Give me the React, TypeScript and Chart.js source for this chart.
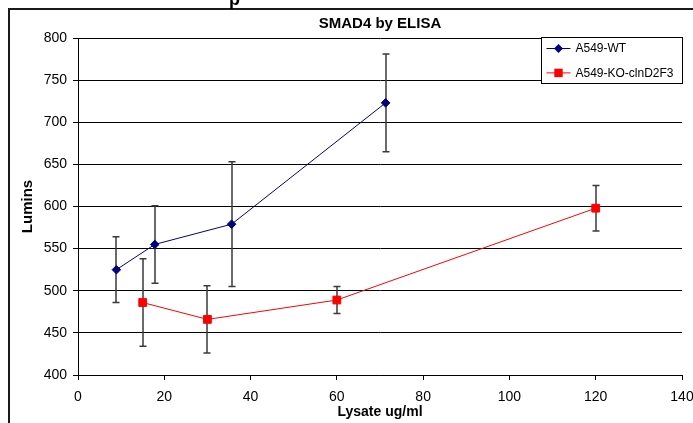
import React, { useEffect, useRef } from 'react';
import { Chart, registerables } from 'chart.js';

Chart.register(...registerables);

// ---- data ----
const chartTitle = 'SMAD4 by ELISA';
const xAxisTitle = 'Lysate ug/ml';
const yAxisTitle = 'Lumins';
const cutTitleFragment = 'p';

const wtLabel = 'A549-WT';
const wtX = [8.9, 17.8, 35.6, 71.3];
const wtY = [525, 555, 579, 723];
const wtErr = [39, 46, 74, 58];

const koLabel = 'A549-KO-clnD2F3';
const koX = [15, 30, 60, 120];
const koY = [486, 466, 489, 598];
const koErr = [52, 40, 16, 27];

const xMin = 0;
const xMax = 140;
const xStep = 20;
const yMin = 400;
const yMax = 800;
const yStep = 50;

const WT_COLOR = '#000080';
const KO_COLOR = '#FF0000';
const SANS = "'Liberation Sans', Arial, Helvetica, sans-serif";

const errorBarPlugin = {
  id: 'errorBars',
  beforeDatasetsDraw(chart: any) {
    const { ctx } = chart;
    const xs = chart.scales.x;
    const ys = chart.scales.y;
    ctx.save();
    ctx.strokeStyle = '#3a3a3a';
    ctx.lineWidth = 1.5;
    chart.data.datasets.forEach((ds: any) => {
      const errs: number[] = ds.errors || [];
      ds.data.forEach((p: any, j: number) => {
        const e = errs[j];
        if (e == null) return;
        const px = Math.round(xs.getPixelForValue(p.x));
        const yT = ys.getPixelForValue(p.y + e);
        const yB = ys.getPixelForValue(p.y - e);
        ctx.beginPath();
        ctx.moveTo(px, yT);
        ctx.lineTo(px, yB);
        ctx.moveTo(px - 3.5, yT);
        ctx.lineTo(px + 3.5, yT);
        ctx.moveTo(px - 3.5, yB);
        ctx.lineTo(px + 3.5, yB);
        ctx.stroke();
      });
    });
    ctx.restore();
  },
};

const annotationPlugin = {
  id: 'annot',
  afterDraw(chart: any) {
    const { ctx, chartArea } = chart;
    ctx.save();
    // title
    ctx.fillStyle = '#000';
    ctx.font = `bold 15px ${SANS}`;
    ctx.textAlign = 'center';
    ctx.textBaseline = 'middle';
    ctx.fillText(chartTitle, (chartArea.left + chartArea.right) / 2, chartArea.top - 14);

    // legend
    const w = 141;
    const h = 46;
    const bx = Math.round(chartArea.right - w) + 0.5;
    const by = Math.round(chartArea.top - 1) + 0.5;
    ctx.fillStyle = '#fff';
    ctx.fillRect(bx, by, w, h);
    ctx.strokeStyle = '#000';
    ctx.lineWidth = 1;
    ctx.strokeRect(bx, by, w, h);
    const rows = chart.data.datasets;
    rows.forEach((ds: any, i: number) => {
      const cy = by + 11 + i * 24.4;
      ctx.strokeStyle = ds.borderColor;
      ctx.lineWidth = 1;
      ctx.beginPath();
      ctx.moveTo(bx + 5, cy);
      ctx.lineTo(bx + 29, cy);
      ctx.stroke();
      ctx.fillStyle = ds.borderColor;
      ctx.beginPath();
      const mx = bx + 17;
      if (ds.pointStyle === 'rectRot') {
        const r = 4.5;
        ctx.moveTo(mx - r, cy);
        ctx.lineTo(mx, cy - r);
        ctx.lineTo(mx + r, cy);
        ctx.lineTo(mx, cy + r);
        ctx.closePath();
      } else {
        ctx.rect(mx - 4.2, cy - 4.2, 8.4, 8.4);
      }
      ctx.fill();
      ctx.fillStyle = '#000';
      ctx.font = `12px ${SANS}`;
      ctx.textAlign = 'left';
      ctx.textBaseline = 'middle';
      ctx.fillText(ds.label, bx + 34, cy + 0.5);
    });
    ctx.restore();
  },
};

export default function App() {
  const canvasRef = useRef<HTMLCanvasElement | null>(null);

  useEffect(() => {
    const canvas = canvasRef.current;
    if (!canvas) return;
    const chart = new Chart(canvas, {
      type: 'scatter',
      data: {
        datasets: [
          {
            label: wtLabel,
            data: wtX.map((x, i) => ({ x, y: wtY[i] })),
            errors: wtErr,
            showLine: true,
            borderColor: WT_COLOR,
            backgroundColor: WT_COLOR,
            borderWidth: 1,
            pointStyle: 'rectRot',
            pointRadius: 4.3,
            pointBorderWidth: 1,
            pointBorderColor: WT_COLOR,
            pointBackgroundColor: WT_COLOR,
          } as any,
          {
            label: koLabel,
            data: koX.map((x, i) => ({ x, y: koY[i] })),
            errors: koErr,
            showLine: true,
            borderColor: KO_COLOR,
            backgroundColor: KO_COLOR,
            borderWidth: 1,
            pointStyle: 'rect',
            pointRadius: 5.5,
            pointBorderWidth: 1,
            pointBorderColor: KO_COLOR,
            pointBackgroundColor: KO_COLOR,
          } as any,
        ],
      },
      options: {
        animation: false,
        responsive: false,
        devicePixelRatio: 1,
        layout: { padding: { top: 28, right: 11, left: 0, bottom: 0 } },
        plugins: {
          legend: { display: false },
          tooltip: { enabled: false },
          title: { display: false },
        },
        scales: {
          x: {
            type: 'linear',
            min: xMin,
            max: xMax,
            ticks: {
              stepSize: xStep,
              color: '#000',
              font: { family: SANS, size: 14 },
              padding: 9,
              maxRotation: 0,
            },
            grid: {
              drawOnChartArea: false,
              drawTicks: true,
              tickLength: 5,
              color: '#000',
              tickColor: '#000',
            },
            border: { color: '#000', width: 1 },
            title: {
              display: true,
              text: xAxisTitle,
              color: '#000',
              font: { family: SANS, size: 14, weight: 'bold' },
              padding: { top: 0, bottom: 2 },
            },
            afterFit: (s: any) => {
              s.height = 48;
              s.paddingLeft = 0;
              s.paddingRight = 0;
            },
          },
          y: {
            type: 'linear',
            min: yMin,
            max: yMax,
            ticks: {
              stepSize: yStep,
              color: '#000',
              font: { family: SANS, size: 14 },
              padding: 6,
            },
            grid: {
              drawOnChartArea: true,
              drawTicks: true,
              tickLength: 5,
              color: '#000',
              tickColor: '#000',
            },
            border: { color: '#000', width: 1 },
            title: {
              display: true,
              text: yAxisTitle,
              color: '#000',
              font: { family: SANS, size: 15, weight: 'bold' },
              padding: { top: 9, bottom: 0 },
            },
            afterFit: (s: any) => {
              s.width = 68;
              s.paddingTop = 0;
              s.paddingBottom = 0;
            },
          },
        },
      } as any,
      plugins: [errorBarPlugin, annotationPlugin],
    });
    return () => chart.destroy();
  }, []);

  return (
    <div
      style={{
        position: 'fixed',
        left: 8,
        top: 8,
        boxSizing: 'border-box',
        width: 685,
        height: 415,
        borderTop: '2px solid #1a1a1a',
        borderLeft: '2px solid #1a1a1a',
        background: '#fff',
      }}
    >
      <span
        style={{
          position: 'absolute',
          left: 219,
          top: -20,
          font: `bold 18px ${SANS}`,
          lineHeight: '18px',
          color: '#000',
          whiteSpace: 'nowrap',
        }}
      >
        {cutTitleFragment}
      </span>
      <canvas ref={canvasRef} width={683} height={413} style={{ display: 'block' }} />
    </div>
  );
}
